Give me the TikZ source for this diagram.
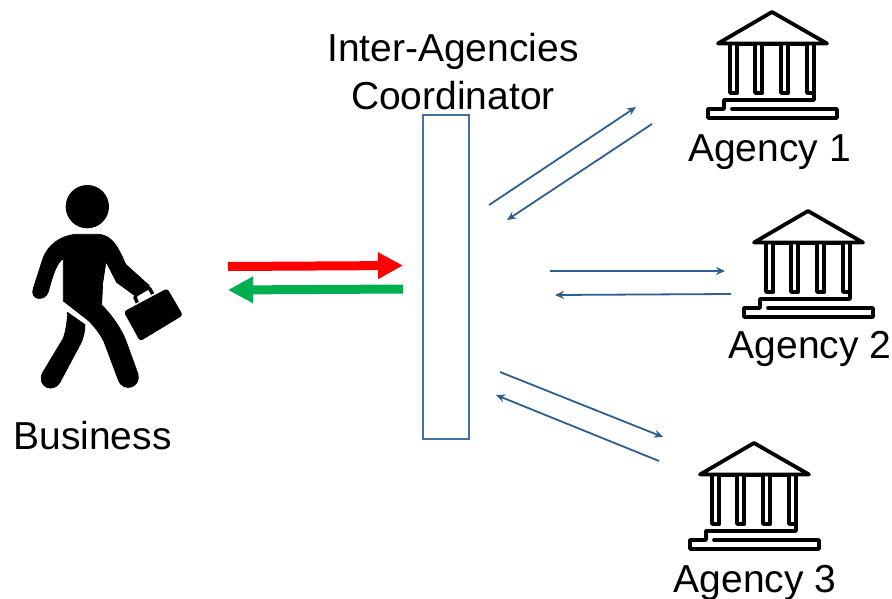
\documentclass[tikz,border=0pt]{standalone}
\usepackage{fontspec}
\setmainfont{Liberation Sans}
\usetikzlibrary{arrows.meta}
\definecolor{linkblue}{HTML}{2F5F8F}
\definecolor{boxblue}{HTML}{41719C}
\definecolor{okgreen}{HTML}{00B050}
\tikzset{
  x=1pt,y=-1pt,
  label text/.style={font=\fontsize{39}{39}\selectfont,inner sep=0pt,anchor=base},
  link/.style={draw=linkblue,line width=1.8pt,-{Stealth[length=9pt,width=8pt]}},
  bigarrow/.style={line width=9pt,-{Triangle[length=25pt,width=25pt]}},
  iconline/.style={line width=3.8pt,line join=round,line cap=round},
  agency/.pic={
    % origin at the roof apex
    \draw[iconline] (-54,31.5) -- (0,0) -- (55,31.5) -- cycle;
    \draw[iconline] (-42,32) -- (-42,81) -- (-34.8,81) -- (-34.8,32) -- (-17,32) -- (-17,81) -- (-9.8,81) -- (-9.8,32)
      -- (9,32) -- (9,81) -- (16.2,81) -- (16.2,32) -- (35,32) -- (35,81) -- (42,81) -- (42,32);
    \draw[iconline] (42,32) -- (42,88) -- (-48,88) -- (-48,97) -- (-64,97) -- (-64,106) -- (65,106) -- (65,97) -- (-40,97);
  }
}
\begin{document}
\begin{tikzpicture}
\useasboundingbox (0,0) rectangle (892,599);
\fill[white] (0,0) rectangle (892,599);

% person
\begin{scope}[shift={(0,170)},x=0.3333pt,y=-0.3333pt]
  \fill (262,110) circle[radius=65];
  \filldraw[line width=0.7pt,line join=round] (225,193) -- (298,193) .. controls (335,198) and (352,225) .. (377,283)
    -- (448,347) -- (402,375)
    -- (350,337) -- (318,275) -- (308,340) -- (305,405)
    .. controls (340,440) and (365,480) .. (377,510)
    -- (414,612) .. controls (424,652) and (370,670) .. (355,630)
    -- (312,515) .. controls (300,490) and (280,465) .. (262,449)
    -- (190,393) -- (190,265) .. controls (170,280) and (160,310) .. (145,365)
    .. controls (135,397) and (88,390) .. (100,355)
    -- (130,262) .. controls (145,225) and (180,198) .. (225,193) -- cycle;
  \filldraw[line width=0.7pt,line join=round] (202,427) -- (255,464) .. controls (255,485) and (250,500) .. (245,515)
    -- (180,637) .. controls (160,672) and (108,650) .. (128,608)
    -- (190,505) .. controls (198,480) and (203,450) .. (202,427) -- cycle;
  \fill[rounded corners=3pt] (371,425) -- (502,355) -- (549,436) -- (420,514) -- cycle;
  \draw[line width=3.5pt,rounded corners=2pt] (412,398) -- (403,378) -- (447,352) -- (458,372);
\end{scope}

% labels
\node[label text] (coordA) at (453,62) {Inter-Agencies};
\node[label text] (coordB) at (453,110) {Coordinator};
\node[label text] (ag1) at (769.5,161) {Agency 1};
\node[label text] (ag2) at (810,358) {Agency 2};
\node[label text] (ag3) at (755,592) {Agency 3};
\node[label text] (biz) at (92.5,449) {Business};

% coordinator box
\node[draw=boxblue,line width=1.1pt,minimum width=46pt,minimum height=324pt,inner sep=0pt] (box) at (446,277) {};

% icons
\pic at (772,12) {agency};
\pic at (808,211) {agency};
\pic at (754,443) {agency};

% free ends
\coordinate (r1) at (228,266.5); \coordinate (r2) at (403,265.5);
\coordinate (g1) at (403,289); \coordinate (g2) at (228,290);
\coordinate (a1) at (489,205); \coordinate (a2) at (636,107);
\coordinate (b1) at (652,124); \coordinate (b2) at (507,220);
\coordinate (c1) at (550,271); \coordinate (c2) at (725,271);
\coordinate (d1) at (731,294); \coordinate (d2) at (555,295);
\coordinate (e1) at (500,372); \coordinate (e2) at (663,437);
\coordinate (f1) at (659,461); \coordinate (f2) at (496,395);

\draw[bigarrow,draw=red,fill=red] (r1) -- (r2);
\draw[bigarrow,draw=okgreen,fill=okgreen] (g1) -- (g2);
\draw[link] (a1) -- (a2);
\draw[link] (b1) -- (b2);
\draw[link] (c1) -- (c2);
\draw[link] (d1) -- (d2);
\draw[link] (e1) -- (e2);
\draw[link] (f1) -- (f2);
\end{tikzpicture}
\end{document}
